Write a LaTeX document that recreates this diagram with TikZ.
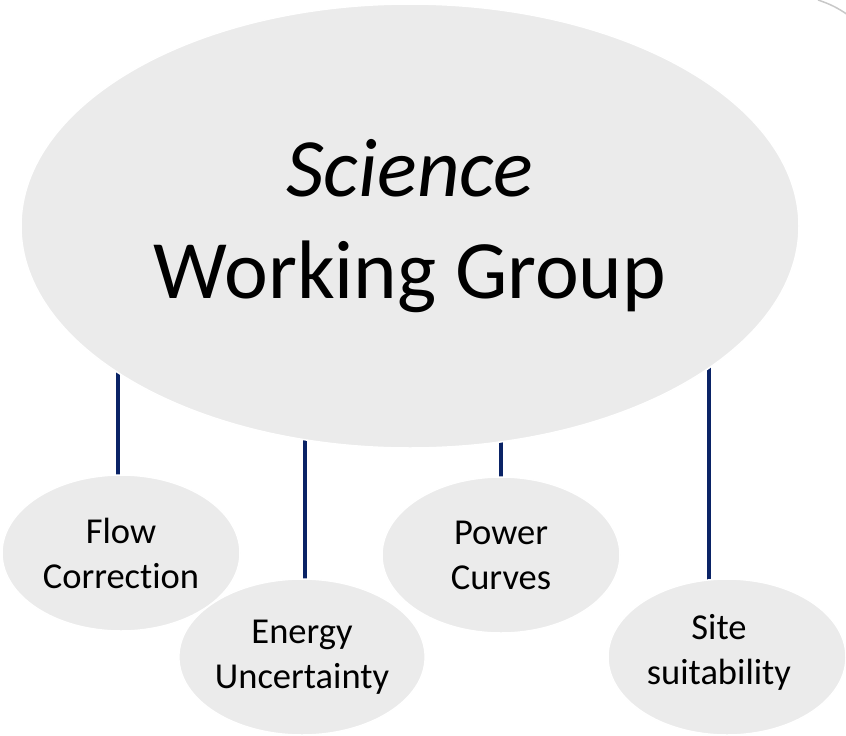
\documentclass[tikz,border=0pt]{standalone}
\usepackage{fontspec}
\setmainfont{Carlito}[Ligatures={NoCommon}]
\usetikzlibrary{shapes.geometric,backgrounds}
\definecolor{bubble}{HTML}{EBEBEB}
\definecolor{navy}{HTML}{0A2366}
\definecolor{rim}{HTML}{C8C8C8}
\begin{document}
\begin{tikzpicture}[x=1pt,y=-1pt,
  bubblebox/.style={ellipse, fill=bubble, draw=white, line width=1.5pt,
    inner sep=0pt, align=center},
  topic/.style={bubblebox, minimum width=238pt, minimum height=156pt,
    font=\fontsize{36.5}{45}\selectfont},
  topictext/.style={inner sep=0pt, align=center, font=\fontsize{36.5}{45}\selectfont},
  link/.style={draw=navy, line width=4pt}]
\useasboundingbox (0,0) rectangle (846,736);

% faint rim of a neighbouring shape in the corner
\draw[rim, line width=1.5pt] (818,0) .. controls (830,4) and (838,8) .. (848,15);

% central group
\node[bubblebox, minimum width=778pt, minimum height=444pt,
      font=\fontsize{83}{102}\selectfont] (main) at (410,226)
  {\textit{Science}\\Working Group};

% topics
\node[topic] (flow)   at (121,553) {Flow\\Correction};
\node[topic] (energy) at (302,657) {Energy\\Uncertainty};
\node[topic] (power)  at (501,555) {Power\\Curves};
\node[topic] (site)   at (727,657) {};
\node[topictext] (sitetext) at ([xshift=-8pt,yshift=5pt]site.center) {Site\\suitability};

% connectors run behind the bubbles
\begin{scope}[on background layer]
  \foreach \t/\dx in {flow/-3,energy/3,power/0,site/-18}
    \draw[link] ([xshift=\dx pt]\t.center) -- ([xshift=\dx pt]\t.center |- main.center);
\end{scope}
\end{tikzpicture}
\end{document}
